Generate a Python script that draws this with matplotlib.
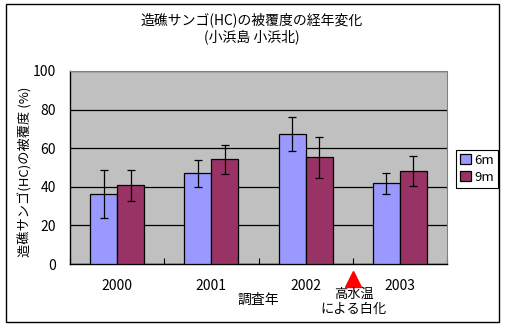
import numpy as np
import matplotlib
matplotlib.use('Agg')
import matplotlib.pyplot as plt
from matplotlib.patches import Rectangle

plt.rcParams['font.family'] = ['Noto Sans CJK JP', 'DejaVu Sans']

# data
years = ['2000', '2001', '2002', '2003']
cover_6m = [36.1, 47.0, 67.2, 41.8]
err_6m = [12.4, 7.0, 8.8, 5.4]
cover_9m = [40.8, 54.2, 55.3, 48.0]
err_9m = [8.0, 7.6, 10.6, 7.8]
depths = ['6m', '9m']

W, H = 505, 326
fig = plt.figure(figsize=(W / 100, H / 100), dpi=100)

# outer chart border
fig.patches.append(Rectangle((6 / W, 1 - 322 / H), 493 / W, 318 / H,
                             transform=fig.transFigure, fill=False,
                             edgecolor='black', linewidth=1.0))

ax = fig.add_axes([70 / W, 1 - 264 / H, 377 / W, 193 / H])
ax.set_facecolor('#C0C0C0')

x = np.arange(len(years))
bw = 0.287
ax.bar(x - bw / 2, cover_6m, bw, yerr=err_6m, color='#9999FF',
       edgecolor='black', linewidth=0.9, label=depths[0], zorder=3,
       error_kw=dict(ecolor='black', elinewidth=0.9, capsize=2.7, capthick=0.9))
ax.bar(x + bw / 2, cover_9m, bw, yerr=err_9m, color='#993366',
       edgecolor='black', linewidth=0.9, label=depths[1], zorder=3,
       error_kw=dict(ecolor='black', elinewidth=0.9, capsize=2.7, capthick=0.9))

ax.set_xlim(-0.5, 3.5)
ax.set_ylim(0, 100)
ax.set_yticks(np.arange(0, 101, 20))
ax.yaxis.grid(True, color='black', linewidth=0.9, zorder=1)
ax.set_axisbelow(True)

# ticks between categories, labels at centres
ax.set_xticks(np.arange(-0.5, 3.6, 1.0))
ax.set_xticklabels([])
ax.set_xticks(x, minor=True)
ax.set_xticklabels(years, minor=True, fontsize=10)
ax.tick_params(axis='x', which='major', direction='in', length=4, width=0.8)
ax.tick_params(axis='x', which='minor', length=0, pad=11)
ax.tick_params(axis='y', length=0, labelsize=10, pad=10)

for s in ['top', 'right']:
    ax.spines[s].set_color('#808080')
for s in ['left', 'bottom']:
    ax.spines[s].set_color('black')
    ax.spines[s].set_linewidth(1.0)

# title
fig.text(252 / W, 1 - 20 / H, '造礁サンゴ(HC)の被覆度の経年変化', ha='center',
         va='center', fontsize=10)
fig.text(252 / W, 1 - 37 / H, '(小浜島 小浜北)', ha='center', va='center',
         fontsize=10)

# axis labels
fig.text(25 / W, 1 - 172 / H, '造礁サンゴ(HC)の被覆度 (%)', rotation=90,
         ha='center', va='center', fontsize=9.5)
fig.text(258 / W, 1 - 300 / H, '調査年', ha='center', va='center', fontsize=10)

# bleaching marker
ax.plot([2.5], [-0.078], marker='^', markersize=12, color='red',
        transform=ax.get_xaxis_transform(), clip_on=False)
fig.text(354 / W, 1 - 294 / H, '高水温', ha='center', va='center', fontsize=9.5)
fig.text(354 / W, 1 - 309 / H, 'による白化', ha='center', va='center', fontsize=9.5)

leg = ax.legend(loc='upper left', bbox_to_anchor=(456 / W, 1 - 150 / H),
                bbox_transform=fig.transFigure, fancybox=False,
                edgecolor='black', framealpha=1, fontsize=9.5,
                handlelength=0.8, handleheight=0.8, handletextpad=0.3,
                borderpad=0.3, labelspacing=0.3, borderaxespad=0)
leg.get_frame().set_linewidth(0.8)

fig.savefig('out.png', dpi=100)
